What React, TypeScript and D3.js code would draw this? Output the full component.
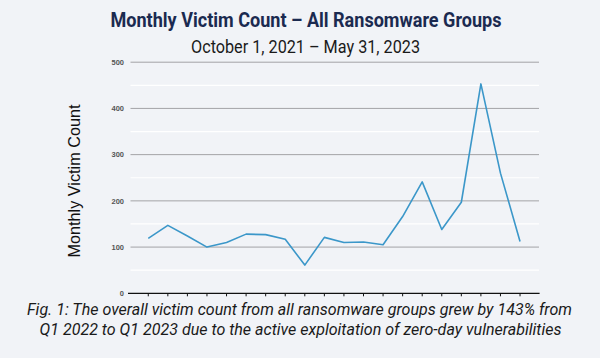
import React from "react";
import * as d3 from "d3";

const months = [
  "Oct 2021", "Nov 2021", "Dec 2021", "Jan 2022", "Feb 2022", "Mar 2022", "Apr 2022",
  "May 2022", "Jun 2022", "Jul 2022", "Aug 2022", "Sep 2022", "Oct 2022", "Nov 2022",
  "Dec 2022", "Jan 2023", "Feb 2023", "Mar 2023", "Apr 2023", "May 2023",
];
const victims = [119, 147, 124, 100, 110, 128, 127, 117, 61, 121, 110, 111, 105, 166, 241, 138, 197, 453, 260, 112];
const yTicks = [0, 100, 200, 300, 400, 500];
const yMinor = [50, 150, 250, 350, 450];

const title = "Monthly Victim Count \u2013 All Ransomware Groups";
const subtitle = "October 1, 2021 \u2013 May 31, 2023";
const yTitle = "Monthly Victim Count";
const caption = [
  "Fig. 1: The overall victim count from all ransomware groups grew by 143% from",
  "Q1 2022 to Q1 2023 due to the active exploitation of zero-day vulnerabilities",
];
const captionWidths = [545, 522];

export default function App() {
  const W = 600, H = 358;
  const x = d3.scalePoint<string>().domain(months).range([128.7, 539.6]).padding(1);
  const y = d3.scaleLinear().domain([0, 500]).range([293.3, 62.2]);
  const line = d3.line<number>().x((_, i) => x(months[i]) as number).y((d) => y(d));
  const gx0 = 130.5, gx1 = 539;
  return (
    <svg width={W} height={H} style={{ position: "absolute", left: 0, top: 0 }}>
      <rect width={W} height={H} fill="#f1f3f7" />
      {yMinor.map((v) => (
        <line key={"m" + v} x1={gx0} x2={gx1} y1={y(v)} y2={y(v)} stroke="#ffffff" strokeWidth={1.2} />
      ))}
      {yTicks.filter((v) => v > 0).map((v) => (
        <line key={"g" + v} x1={gx0} x2={gx1} y1={y(v)} y2={y(v)} stroke="#a3a3a6" strokeWidth={1} />
      ))}
      {yTicks.map((v) => (
        <text key={"t" + v} x={124} y={y(v) + 2.8} textAnchor="end" fontFamily="Liberation Sans, Arial, sans-serif" fontSize={7.5} fill="#555" fontWeight="bold">{v}</text>
      ))}
      <line x1={128} x2={539.6} y1={y(0)} y2={y(0)} stroke="#111" strokeWidth={1.2} />
      {months.map((m) => (
        <line key={"x" + m} x1={x(m)} x2={x(m)} y1={y(0)} y2={y(0) + 3} stroke="#111" strokeWidth={1} />
      ))}
      <path d={line(victims) || ""} fill="none" stroke="#3b97c9" strokeWidth={1.6} strokeLinejoin="round" />
      <text x={306} y={26.8} textAnchor="middle" fontFamily="Roboto, sans-serif" fontWeight="bold" fontSize={20.5} fill="#1b2a50" textLength={391} lengthAdjust="spacingAndGlyphs">{title}</text>
      <text x={305.5} y={52.8} textAnchor="middle" fontFamily="Roboto, sans-serif" fontSize={18.5} fill="#1a1a1a" textLength={229} lengthAdjust="spacingAndGlyphs">{subtitle}</text>
      <text transform="translate(80,181) rotate(-90)" textAnchor="middle" fontFamily="Liberation Sans, Arial, sans-serif" fontSize={16} fill="#111" textLength={153} lengthAdjust="spacingAndGlyphs">{yTitle}</text>
      {caption.map((c, i) => (
        <text key={"c" + i} x={i === 0 ? 299.5 : 300.5} y={315 + i * 19.5} textAnchor="middle" fontFamily="Roboto, sans-serif" fontStyle="italic" fontSize={16.5} fill="#1a1a1a" textLength={captionWidths[i]} lengthAdjust="spacingAndGlyphs">{c}</text>
      ))}
    </svg>
  );
}
